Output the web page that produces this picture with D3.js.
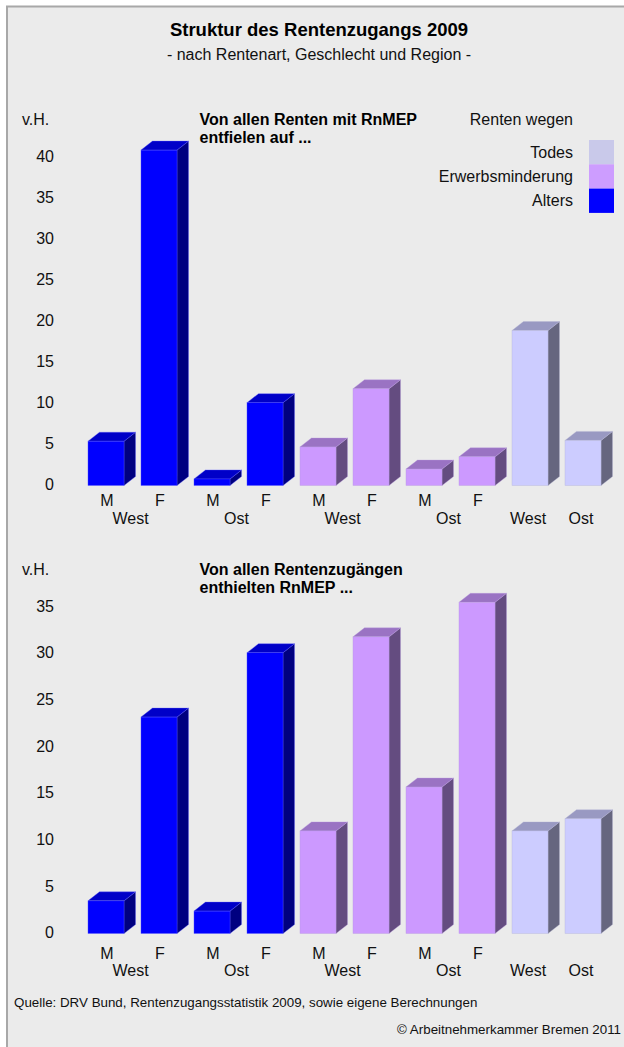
<!DOCTYPE html>
<html>
<head>
<meta charset="utf-8">
<script src="https://cdn.jsdelivr.net/npm/d3@7"></script>
<style>
  body { margin: 0; background: #ffffff; }
  svg { display: block; font-family: "Liberation Sans", Arial, Helvetica, sans-serif; }
</style>
</head>
<body>
<svg id="chart" width="624" height="1047"></svg>
<script>
// Rentenarten und Balkenzuordnung
const rentenart = ["Alters", "Erwerbsminderung", "Todes"];
const barArt = ["Alters", "Alters", "Alters", "Alters",
                "Erwerbsminderung", "Erwerbsminderung", "Erwerbsminderung", "Erwerbsminderung",
                "Todes", "Todes"];
const barRegion = ["West", "West", "Ost", "Ost", "West", "West", "Ost", "Ost", "West", "Ost"];
const barSex = ["M", "F", "M", "F", "M", "F", "M", "F", "", ""];

// Anteile in v.H.
const anteilAnRnMEP = [5.4, 40.9, 0.8, 10.1, 4.7, 11.8, 2.0, 3.5, 18.9, 5.5];   // von allen Renten mit RnMEP
const quoteRnMEP    = [3.5, 23.2, 2.4, 30.1, 11.0, 31.8, 15.7, 35.5, 11.0, 12.3]; // von allen Rentenzugängen

// Achsenbeschriftung
const ticksOben = [0, 5, 10, 15, 20, 25, 30, 35, 40];
const ticksUnten = [0, 5, 10, 15, 20, 25, 30, 35];

// Legende (von oben nach unten)
const legendLabels = ["Todes", "Erwerbsminderung", "Alters"];

// Flächenfarben der Quader: Vorderseite, Deckel, Seite
const faceColors = {
  "Alters":           { front: "#0000ff", top: "#0000c8", side: "#000080", edge: "#5a5aff" },
  "Erwerbsminderung": { front: "#cc99ff", top: "#9a73c3", side: "#644c80", edge: "#b89be0" },
  "Todes":            { front: "#ccccff", top: "#9999c2", side: "#66667f", edge: "#b4b4d6" }
};
const legendFill = { "Todes": "#c9c9ea", "Erwerbsminderung": "#cd9dff", "Alters": "#0000ff" };

const svg = d3.select("#chart");
const font = "\"Liberation Sans\", Arial, Helvetica, sans-serif";
const depthX = 11.5, depthY = 9;

// Rahmen und Hintergrund
svg.append("rect")
  .attr("x", 7).attr("y", 6.5)
  .attr("width", 700).attr("height", 1100)
  .attr("fill", "#ebebeb")
  .attr("stroke", "#a8a8a8")
  .attr("stroke-width", 2);

// Titel
svg.append("text")
  .attr("x", 319).attr("y", 36)
  .attr("text-anchor", "middle")
  .attr("font-size", 18.5).attr("font-weight", "bold").attr("fill", "#000")
  .text("Struktur des Rentenzugangs 2009");
svg.append("text")
  .attr("x", 319).attr("y", 59.5)
  .attr("text-anchor", "middle")
  .attr("font-size", 16).attr("fill", "#111")
  .text("- nach Rentenart, Geschlecht und Region -");

// Legende
svg.append("text")
  .attr("x", 573).attr("y", 124.5)
  .attr("text-anchor", "end")
  .attr("font-size", 16).attr("fill", "#111")
  .text("Renten wegen");

const swatchH = 24.3;
const legend = svg.append("g").attr("transform", "translate(0,140)");
legendLabels.forEach((name, i) => {
  legend.append("rect")
    .attr("x", 589).attr("y", i * swatchH)
    .attr("width", 25).attr("height", swatchH)
    .attr("fill", legendFill[name]);
  legend.append("text")
    .attr("x", 573).attr("y", i * swatchH + swatchH / 2 + 5.7)
    .attr("text-anchor", "end")
    .attr("font-size", 16).attr("fill", "#111")
    .text(name);
});

// Gemeinsame x-Skala für beide Diagramme
const x = d3.scaleBand()
  .domain(d3.range(barArt.length))
  .range([79.5, 609.5])
  .paddingInner(0.32)
  .paddingOuter(0.16);

const panels = [
  { values: anteilAnRnMEP, ticks: ticksOben, domain: [0, 40], range: [485.5, 157.5],
    vhY: 124.5, note: ["Von allen Renten mit RnMEP", "entfielen auf ..."],
    sexY: 506, regionY: 523.5 },
  { values: quoteRnMEP, ticks: ticksUnten, domain: [0, 35], range: [933.5, 607],
    vhY: 574.5, note: ["Von allen Rentenzugängen", "enthielten RnMEP ..."],
    sexY: 958.5, regionY: 976 }
];

panels.forEach(p => {
  const y = d3.scaleLinear().domain(p.domain).range(p.range);
  const g = svg.append("g");

  // Einheit
  g.append("text")
    .attr("x", 22).attr("y", p.vhY)
    .attr("font-size", 16).attr("fill", "#111")
    .text("v.H.");

  // Überschrift im Diagramm
  p.note.forEach((line, i) => {
    g.append("text")
      .attr("x", 199.5).attr("y", p.vhY + i * 18)
      .attr("font-size", 16).attr("font-weight", "bold").attr("fill", "#000")
      .text(line);
  });

  // y-Achse
  const axis = g.append("g")
    .attr("transform", "translate(57,0)")
    .call(d3.axisLeft(y).tickValues(p.ticks).tickSize(0).tickPadding(3).tickFormat(d3.format("d")))
    .attr("font-family", font)
    .attr("font-size", 16);
  axis.select(".domain").remove();
  axis.selectAll("text").attr("fill", "#111").attr("dy", "0.26em");

  // Quader
  const bars = g.selectAll("g.bar")
    .data(p.values.map((v, i) => ({ i, v, art: barArt[i] })))
    .join("g").attr("class", "bar");

  bars.each(function (d) {
    const sel = d3.select(this);
    const c = faceColors[d.art];
    const x0 = x(d.i), w = x.bandwidth();
    const yt = y(d.v), yb = y(0);
    const pts = a => a.map(q => q.join(",")).join(" ");
    // Seite
    sel.append("polygon")
      .attr("points", pts([[x0 + w, yt], [x0 + w + depthX, yt - depthY],
                           [x0 + w + depthX, yb - depthY], [x0 + w, yb]]))
      .attr("fill", c.side).attr("stroke", c.edge).attr("stroke-width", 0.6).attr("stroke-opacity", 0.6);
    // Deckel
    sel.append("polygon")
      .attr("points", pts([[x0, yt], [x0 + depthX, yt - depthY],
                           [x0 + w + depthX, yt - depthY], [x0 + w, yt]]))
      .attr("fill", c.top).attr("stroke", c.edge).attr("stroke-width", 0.6).attr("stroke-opacity", 0.6);
    // Vorderseite
    sel.append("rect")
      .attr("x", x0).attr("y", yt)
      .attr("width", w).attr("height", yb - yt)
      .attr("fill", c.front).attr("stroke", c.edge).attr("stroke-width", 0.6).attr("stroke-opacity", 0.6);
  });

  // Geschlecht
  barSex.forEach((s, i) => {
    if (!s) return;
    g.append("text")
      .attr("x", x(i) + x.bandwidth() / 2 + 1).attr("y", p.sexY)
      .attr("text-anchor", "middle")
      .attr("font-size", 16).attr("fill", "#111")
      .text(s);
  });

  // Region
  const groups = d3.groups(d3.range(barArt.length), i => barArt[i] + "|" + barRegion[i]);
  groups.forEach(([key, idx]) => {
    const cx = d3.mean(idx, i => x(i) + x.bandwidth() / 2) - 2;
    g.append("text")
      .attr("x", cx).attr("y", p.regionY)
      .attr("text-anchor", "middle")
      .attr("font-size", 16).attr("fill", "#111")
      .text(barRegion[idx[0]]);
  });
});

// Quellenangabe
svg.append("text")
  .attr("x", 14).attr("y", 1007)
  .attr("font-size", 13.35).attr("fill", "#111")
  .text("Quelle: DRV Bund, Rentenzugangsstatistik 2009, sowie eigene Berechnungen");
svg.append("text")
  .attr("x", 621).attr("y", 1034)
  .attr("text-anchor", "end")
  .attr("font-size", 13.35).attr("fill", "#111")
  .text("© Arbeitnehmerkammer Bremen 2011");
</script>
</body>
</html>
